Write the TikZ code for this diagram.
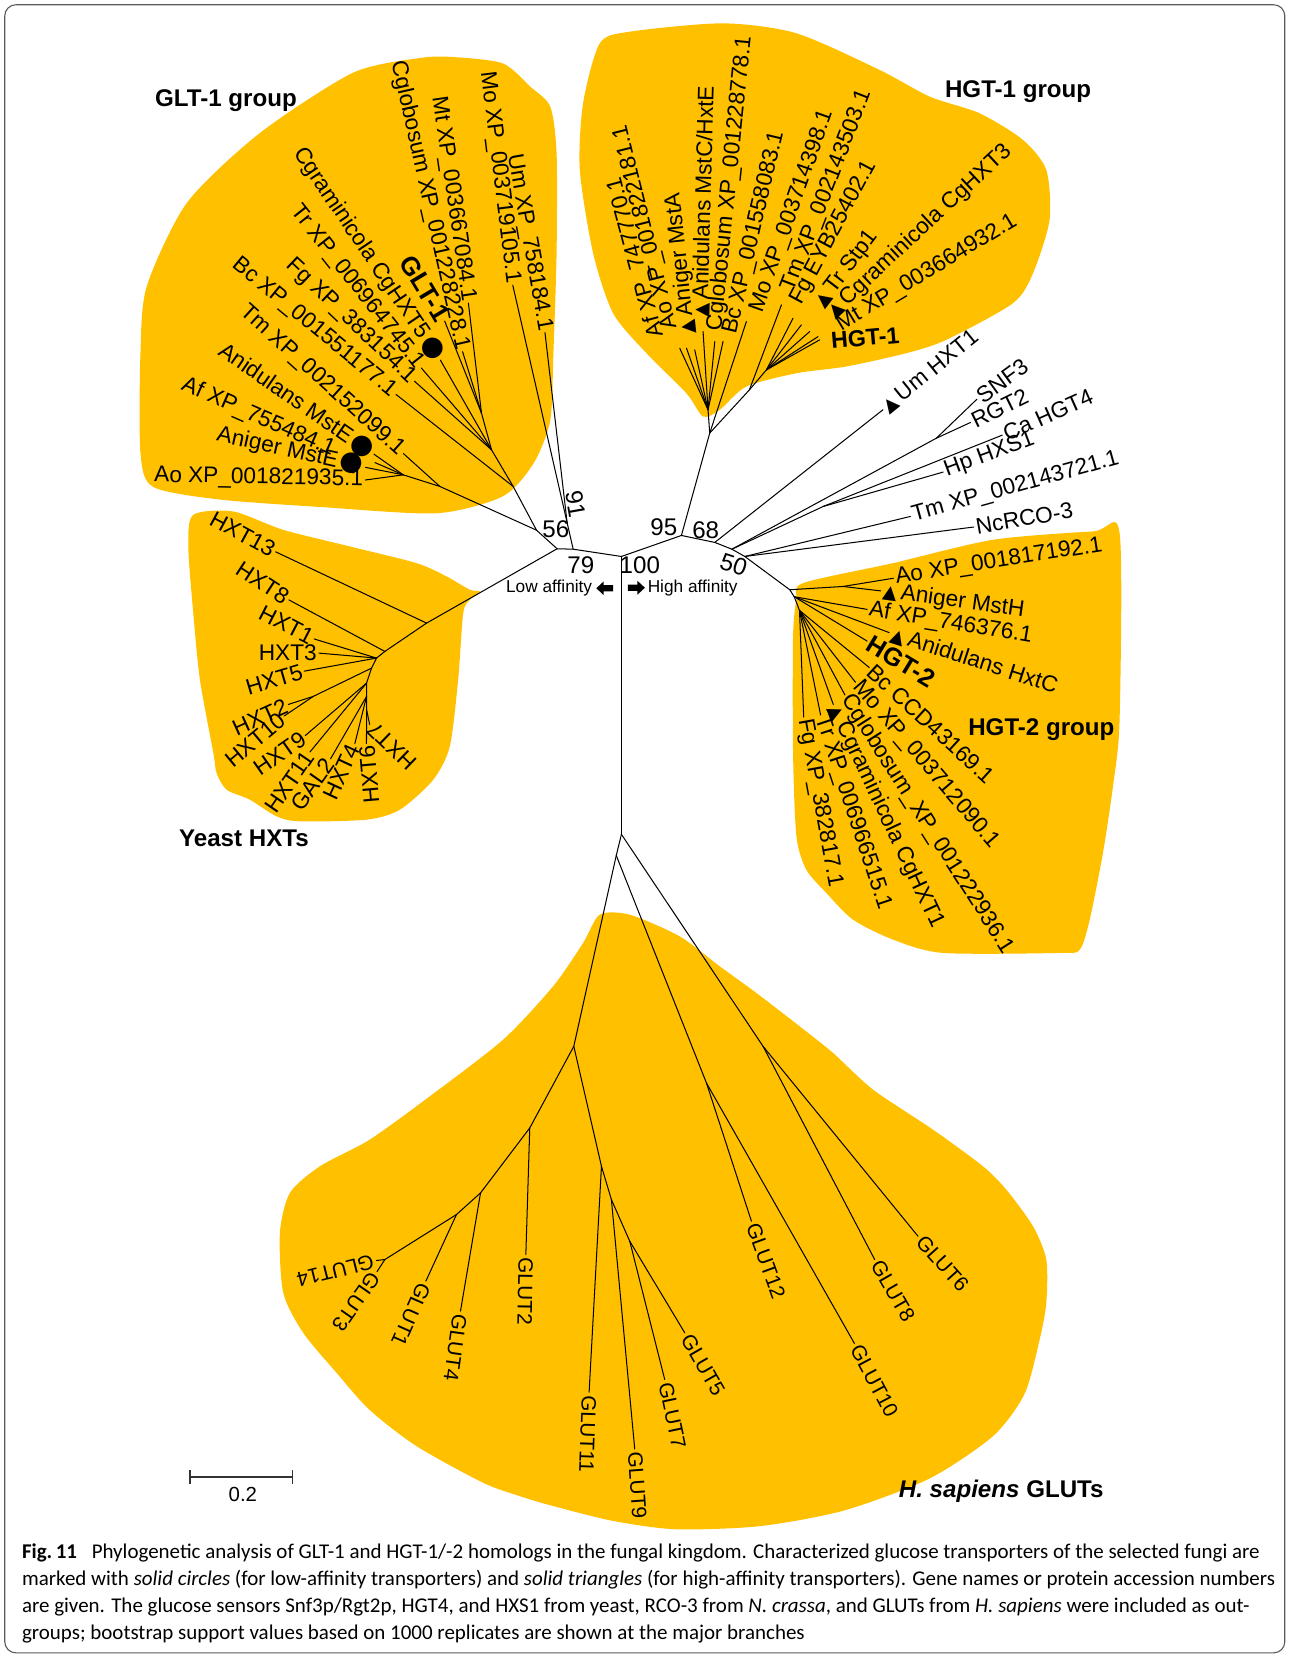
\documentclass[tikz,border=0pt]{standalone}
\usepackage{fontspec}
\setmainfont{Liberation Sans}
\newfontfamily\capfont{Carlito}
\newfontfamily\symfont{DejaVu Sans}
\usepackage{tikz}
\definecolor{Amber}{HTML}{FFC000}
\definecolor{Frame}{HTML}{5A5A5A}
\newcommand{\hitri}{{\symfont\fontsize{10}{10}\selectfont ▲}\,}
\newcommand{\lowcirc}{\hspace{1.5pt}{\symfont\fontsize{14.5}{12}\selectfont ●}}

\begin{document}
\begin{tikzpicture}[x=0.02cm, y=-0.02cm,
    tree/.style={line width=0.55pt, line cap=round},
    blob/.style={fill=Amber},
    lbl/.style={font=\fontsize{12.2}{12.2}\selectfont, inner sep=1pt},
    outl/.style={lbl, anchor=west},
    inl/.style={lbl, anchor=east},
    glut/.style={font=\fontsize{11.2}{11.2}\selectfont, inner sep=1.5pt, anchor=west},
    boot/.style={font=\fontsize{13}{13}\selectfont, inner sep=0pt},
    grp/.style={font=\bfseries\fontsize{13}{13}\selectfont, inner sep=0pt},
    aff/.style={font=\fontsize{9.3}{9.3}\selectfont, inner sep=0pt},
]
    \useasboundingbox (0,0) rectangle (1221,1568);
    \draw[Frame, line width=0.6pt, rounded corners=6pt] (4.5,4.5) rectangle (1216.5,1565);

    % shaded groups
    \fill[blob] plot[smooth cycle, tension=0.45] coordinates {(246,126) (334,69) (397,55) (429,54) (476,60) (502,82) (521,101) (527,145) (527,240) (524,334) (521,398) (505,439) (476,470) (413,486) (303,480) (208,473) (145,461) (133,429) (133,334) (139,271) (177,192)};
    \fill[blob] plot[smooth cycle, tension=0.45] coordinates {(567.9,41) (596.3,30) (684.6,22.1) (754.1,31.5) (833,66.3) (880.3,91.5) (927.6,107.3) (968.6,132.5) (990.7,160.9) (993.8,208.2) (978.1,258.7) (959.1,287.1) (896,321.8) (858.2,334.4) (801.4,347) (754.1,353.4) (706.7,366) (681.5,388) (665.7,394.4) (649.9,372.3) (612.1,334.4) (580.5,296.6) (561.6,239.8) (549,160.9) (552.1,97.8)};
    \fill[blob] plot[smooth cycle, tension=0.45] coordinates {(183,487.5) (220.9,484.3) (268.2,501.7) (331.3,517.4) (394.4,533.2) (422.8,545.8) (444.9,558.4) (454.3,560) (444.9,567.9) (438.6,580.5) (433.8,643.6) (425.9,706.7) (410.2,738.3) (378.6,766.7) (347.1,776.1) (284,777.7) (261.9,773) (236.6,757.2) (214.5,747.7) (205.1,732) (202,713) (189.3,643.6) (183,580.5) (178.3,517.4)};
    \fill[blob] plot[smooth cycle, tension=0.45] coordinates {(760.4,552.1) (845.6,533.2) (940.2,511.1) (1034.9,503.2) (1060.1,504.8) (1060.1,681.5) (1053.8,744.6) (1044.3,807.7) (1031.8,870.8) (1022.3,899.2) (1003.3,902.3) (892.9,902.3) (845.6,889.7) (807.7,870.8) (782.5,845.6) (763.5,823.5) (754.1,791.9) (750.9,713) (750.9,602.6) (754.1,567.9)};
    \fill[blob] plot[smooth cycle, tension=0.45] coordinates {(567.9,866.1) (596.3,866.1) (643.6,886.6) (681.5,915) (716.2,940.2) (757.2,971.8) (788.8,997) (826.6,1031.7) (883.4,1069.6) (930.7,1104.3) (952.8,1126.4) (978.1,1161.1) (990.7,1192.6) (990.7,1233.6) (984.4,1268.3) (970,1320) (940,1360) (880,1400) (800,1430) (720,1445) (640,1448) (580,1440) (520,1425) (492.2,1416.6) (457.5,1404) (394.4,1369.3) (350,1335) (318.7,1299.9) (287.1,1262) (268.2,1224.1) (265,1167.4) (274.5,1129.5) (302.9,1104.3) (350.2,1079) (407,1038) (476.4,984.4) (523.7,933.9) (552.1,892.9)};

    % backbone
    \coordinate (n56) at (527.5,519.6);
    \coordinate (n79) at (542.7,520);
    \coordinate (n100) at (588.4,526.9);
    \coordinate (n95) at (645.2,507);
    \coordinate (n68) at (676.8,513.6);
    \coordinate (nA) at (693,520);
    \coordinate (n50) at (705.2,526.9);
    \coordinate (nB) at (588.4,790);
    \draw[tree] (n56) -- (n79) -- (n100) -- (n95) -- (n68) -- (nA) -- (n50);
    \draw[tree] (n100) -- (nB);

    \node[boot] (b56) at (526.3,501) {56};
    \node[boot, rotate=-80] (b91) at (545.2,477) {91};
    \node[boot] (b79) at (549.9,535.4) {79};
    \node[boot] (b100) at (605.8,535.4) {100};
    \node[boot] (b95) at (628.5,499.1) {95};
    \node[boot] (b68) at (668.2,501.6) {68};
    \node[boot, rotate=-18] (b50) at (694.8,534.8) {50};

    \node[aff, anchor=east] (lowaff) at (561,557) {Low affinity};
    \node[aff, anchor=west] (highaff) at (613,556.5) {High affinity};
    \fill[shift={(572.6,557)}] (-8,0) -- (-1,-6.5) -- (-1,-3) -- (8,-3) -- (8,3) -- (-1,3) -- (-1,6.5) -- cycle;
    \fill[shift={(602.6,556.5)}] (8,0) -- (1,-6.5) -- (1,-3) -- (-8,-3) -- (-8,3) -- (1,3) -- (1,6.5) -- cycle;

    % GLT-1 group
    \coordinate (gS) at (508,502);
    \coordinate (gT) at (416.5,460.6);
    \coordinate (gAsp) at (381.8,449.6);
    \coordinate (gB) at (485.9,460.6);
    \coordinate (gC) at (465.4,425.9);
    \coordinate (gD) at (455.9,391.2);
    \coordinate (gUM) at (537,495);
    \draw[tree] (n56) -- (gS) -- (gT) -- (gAsp);
    \draw[tree] (gS) -- (gB) -- (gC) -- (gD);
    \draw[tree] (n79) -- (gUM);

    \node[inl, rotate=-1] (aoA) at (346,454.5) {Ao XP\_001821935.1};
    \draw[tree] (gAsp) -- (aoA.east);
    \node[inl, rotate=-12.4] (anE) at (346,442.5) {Aniger MstE\lowcirc};
    \draw[tree] (gAsp) -- (anE.east);
    \coordinate (tafA) at (355,438);
    \node[inl, rotate=-23.7] (afA) at (318,427.5) {Af XP\_755484.1};
    \draw[tree] (gAsp) -- (tafA);
    \node[inl, rotate=-34.6] (anidE) at (354,430) {Anidulans MstE\lowcirc};
    \draw[tree] (gAsp) -- (anidE.east);
    \node[inl, rotate=-42] (tmA) at (382,429.5) {Tm XP\_002152099.1};
    \draw[tree] (gT) -- (tmA.east);
    \node[inl, rotate=-39.4] (bcA) at (375,373.5) {Bc XP\_001551177.1};
    \draw[tree] (gB) -- (bcA.east);
    \node[inl, rotate=-43.5] (fgA) at (392.5,361) {Fg XP\_383154.1};
    \draw[tree] (gC) -- (fgA.east);
    \node[inl, rotate=-51.6] (trA) at (399,348.5) {Tr XP\_006964745.1};
    \draw[tree] (gC) -- (trA.east);
    \node[inl, rotate=-56] (cgA) at (417,341) {Cgraminicola CgHXT5\lowcirc};
    \draw[tree] (gC) -- (cgA.east);
    \node[inl, rotate=-59, font=\bfseries\fontsize{14}{14}\selectfont] (glt) at (421,304) {GLT-1};
    \draw[tree] (gD) -- (glt.east);
    \node[inl, rotate=-77.3] (cglA) at (438,333) {Cglobosum XP\_001228228.1};
    \draw[tree] (gD) -- (cglA.east);
    \node[inl, rotate=-81.6] (mtA) at (443.5,287) {Mt XP\_003667084.1};
    \draw[tree] (gD) -- (mtA.east);
    \node[inl, rotate=-83] (moA) at (485.5,270) {Mo XP\_003719105.1};
    \draw[tree] (gUM) -- (moA.east);
    \node[inl, rotate=-80] (umA) at (516,315) {Um XP\_758184.1};
    \draw[tree] (gUM) -- (umA.east);
    \node[grp] (gltgrp) at (214,95) {GLT-1 group};

    % yeast HXTs
    \coordinate (yB) at (403.9,590);
    \coordinate (yC) at (364.4,616.8);
    \coordinate (yD) at (356.5,623.1);
    \coordinate (yE) at (351.8,632.6);
    \coordinate (yE1) at (296.6,659.4);
    \coordinate (yF) at (347.1,646.8);
    \coordinate (yG) at (347.1,659.4);
    \coordinate (yH) at (347.1,672);
    \draw[tree] (n56) -- (yB) -- (yC) -- (yD) -- (yE) -- (yF) -- (yG) -- (yH);
    \draw[tree] (yE) -- (yE1);

    \node[inl, rotate=-28.4] (hxt13) at (261,522.5) {HXT13};
    \draw[tree] (yB) -- (hxt13.east);
    \node[inl, rotate=-33] (hxt8) at (273.5,568) {HXT8};
    \draw[tree] (yC) -- (hxt8.east);
    \node[inl, rotate=-27.3] (hxt1) at (297.5,605) {HXT1};
    \draw[tree] (yD) -- (hxt1.east);
    \node[inl] (hxt3) at (302,618.4) {HXT3};
    \draw[tree] (yD) -- (hxt3.east);
    \node[inl, rotate=16.4] (hxt5) at (288,635.5) {HXT5};
    \draw[tree] (yD) -- (hxt5.east);
    \node[inl, rotate=24.4] (hxt2) at (273,667) {HXT2};
    \draw[tree] (yE1) -- (hxt2.east);
    \node[inl, rotate=39.8] (hxt10) at (269,678) {HXT10};
    \draw[tree] (yE1) -- (hxt10.east);
    \node[inl, rotate=35] (hxt9) at (289,696.5) {HXT9};
    \draw[tree] (yF) -- (hxt9.east);
    \node[inl, rotate=55.6] (hxt11) at (293.5,712) {HXT11};
    \draw[tree] (yF) -- (hxt11.east);
    \node[inl, rotate=55] (gal2) at (313,718.5) {GAL2};
    \draw[tree] (yG) -- (gal2.east);
    \node[inl, rotate=65] (hxt4) at (336,704) {HXT4};
    \draw[tree] (yG) -- (hxt4.east);
    \node[inl, rotate=95] (hxt6) at (347,704) {HXT6};
    \draw[tree] (yH) -- (hxt6.east);
    \node[inl, rotate=136] (hxt7) at (350,686) {HXT7};
    \draw[tree] (yH) -- (hxt7.east);
    \node[grp] (yeastgrp) at (231,793.5) {Yeast HXTs};

    % HGT-1 group
    \coordinate (h0) at (672,410.1);
    \coordinate (hA) at (670.4,388);
    \coordinate (hB) at (709.6,369.1);
    \coordinate (hC) at (725.7,350.2);
    \draw[tree] (n95) -- (h0) -- (hA);
    \draw[tree] (h0) -- (hB) -- (hC);

    \coordinate (tAfB) at (643.6,329.7);
    \coordinate (tAoB) at (650,329.7);
    \coordinate (tAnA) at (657.8,331.3);
    \coordinate (tAnC) at (665.7,313.9);
    \coordinate (tCglB) at (676.8,323.4);
    \coordinate (tBcB) at (684.6,323.4);
    \coordinate (tMoB) at (706.7,304.5);
    \coordinate (tTmB) at (739.9,288.7);
    \coordinate (tFgB) at (750.9,301.3);
    \coordinate (tTrB) at (758.8,307.6);
    \coordinate (tCgB) at (766.7,313.9);
    \coordinate (tMtB) at (774.6,318.7);
    \coordinate (tHgt1) at (776.1,321.8);
    \draw[tree] (hA) -- (tAfB);
    \draw[tree] (hA) -- (tAoB);
    \draw[tree] (hA) -- (tAnA);
    \draw[tree] (hA) -- (tAnC);
    \draw[tree] (hA) -- (tCglB);
    \draw[tree] (hA) -- (tBcB);
    \draw[tree] (h0) -- (tMoB);
    \draw[tree] (hB) -- (tTmB);
    \draw[tree] (hC) -- (tFgB);
    \draw[tree] (hC) -- (tTrB);
    \draw[tree] (hC) -- (tCgB);
    \draw[tree] (hC) -- (tMtB);
    \draw[tree] (hC) -- (tHgt1);

    \node[outl, rotate=105] (afB) at (623,321) {Af XP\_747770.1};
    \node[outl, rotate=104] (aoB) at (636,313) {Ao XP\_001822181.1};
    \node[outl, rotate=96] (anA) at (652,318) {\hitri Aniger MstA};
    \node[outl, rotate=88.4] (anC) at (663,303) {\hitri Anidulans MstC/HxtE};
    \node[outl, rotate=84.2] (cglB) at (677,315) {Cglobosum XP\_001228778.1};
    \node[outl, rotate=76.8] (bcB) at (691,318) {Bc XP\_001558083.1};
    \node[outl, rotate=70.6] (moB) at (716,297) {Mo XP\_003714398.1};
    \node[outl, rotate=68.8] (tmB) at (746,277) {Tm XP\_002143503.1};
    \node[outl, rotate=61.9] (fgB) at (753,289) {Fg EYB25402.1};
    \node[outl, rotate=52.7] (trB) at (774,291) {\hitri Tr Stp1};
    \node[outl, rotate=43] (cgB) at (785,299) {\hitri Cgraminicola CgHXT3};
    \node[outl, rotate=31] (mtB) at (792,310) {Mt XP\_003664932.1};
    \node[outl, rotate=5, font=\bfseries\fontsize{12.5}{12.5}\selectfont] (hgt1) at (785,323) {HGT-1};
    \node[grp] (hgt1grp) at (964,87) {HGT-1 group};

    % sensors and other outgroups
    \coordinate (jSR) at (886.6,414.9);
    \coordinate (jCH) at (779.3,479.6);
    \draw[tree] (nA) -- (jSR);
    \draw[tree] (nA) -- (jCH);
    \node[outl, rotate=39] (umB) at (836,388) {\hitri Um HXT1};
    \draw[tree] (n68) -- (umB.west);
    \node[outl, rotate=36] (snf3) at (925,378) {SNF3};
    \draw[tree] (jSR) -- (snf3.west);
    \node[outl, rotate=26] (rgt2) at (919,400) {RGT2};
    \draw[tree] (jSR) -- (rgt2.west);
    \node[outl, rotate=24] (cahgt4) at (949,412) {Ca HGT4};
    \draw[tree] (jCH) -- (cahgt4.west);
    \node[outl, rotate=20.3] (hphxs1) at (893,447) {Hp HXS1};
    \draw[tree] (jCH) -- (hphxs1.west);
    \node[outl, rotate=15.6] (tmC) at (862,489) {Tm XP\_002143721.1};
    \draw[tree] (n50) -- (tmC.west);
    \node[outl, rotate=9.8] (ncrco) at (922,499) {NcRCO-3};
    \draw[tree] (n50) -- (ncrco.west);

    % HGT-2 group
    \coordinate (k1) at (747.8,558.4);
    \coordinate (kAo) at (798.2,555.3);
    \coordinate (k2) at (752,565);
    \coordinate (k3) at (757,578);
    \draw[tree] (n50) -- (k1) -- (kAo);
    \draw[tree] (k1) -- (k2) -- (k3);

    \node[outl, rotate=8.9] (aoC) at (846,547.5) {Ao XP\_001817192.1};
    \draw[tree] (kAo) -- (aoC.west);
    \node[outl, rotate=-8] (anH) at (834,559.5) {\hitri Aniger MstH};
    \draw[tree] (kAo) -- (anH.west);
    \node[outl, rotate=-9.4] (afC) at (821,577) {Af XP\_746376.1};
    \draw[tree] (k2) -- (afC.west);
    \node[outl, rotate=-17.9] (anidC) at (842,599) {\hitri Anidulans HxtC};
    \draw[tree] (k2) -- (anidC.west);
    \node[outl, rotate=-31, font=\bfseries\fontsize{13.7}{13.7}\selectfont] (hgt2) at (821,607) {HGT-2};
    \draw[tree] (k2) -- (hgt2.west);
    \node[outl, rotate=-42.5] (bcC) at (823,632) {Bc CCD43169.1};
    \draw[tree] (k3) -- (bcC.west);
    \node[outl, rotate=-49.4] (moC) at (810,646) {Mo XP\_003712090.1};
    \draw[tree] (k3) -- (moC.west);
    \node[outl, rotate=-57.5] (cglC) at (800,658) {Cglobosum\_XP\_001222936.1};
    \draw[tree] (k3) -- (cglC.west);
    \node[outl, rotate=-64.8] (cgC) at (789,667) {\hitri Cgraminicola CgHXT1};
    \draw[tree] (k3) -- (cgC.west);
    \node[outl, rotate=-71.6] (trC) at (777,677) {Tr XP\_006966515.1};
    \draw[tree] (k3) -- (trC.west);
    \node[outl, rotate=-79.6] (fgC) at (761,679) {Fg XP\_382817.1};
    \draw[tree] (k3) -- (fgC.west);
    \node[grp] (hgt2grp) at (986,691) {HGT-2 group};

    % human GLUTs
    \coordinate (gX) at (583.5,810);
    \coordinate (g1) at (543.3,990.7);
    \coordinate (g2) at (668.9,1025.4);
    \coordinate (g3) at (722.5,990.7);
    \coordinate (g4) at (501.6,1068);
    \coordinate (g5) at (455,1129.5);
    \coordinate (g6) at (432.2,1150);
    \coordinate (f14) at (364.4,1192.6);
    \coordinate (g7) at (569.5,1104.3);
    \coordinate (g8) at (578.9,1135.8);
    \coordinate (g9) at (596.3,1175.3);
    \draw[tree] (nB) -- (gX) -- (g1) -- (g4) -- (g5) -- (g6) -- (f14);
    \draw[tree] (gX) -- (g2);
    \draw[tree] (nB) -- (g3);
    \draw[tree] (g1) -- (g7) -- (g8) -- (g9);

    \node[glut, rotate=-48] (glut6) at (869.2,1170.5) {GLUT6};
    \draw[tree] (g3) -- (glut6.west);
    \node[glut, rotate=-60] (glut8) at (828.2,1192.6) {GLUT8};
    \draw[tree] (g3) -- (glut8.west);
    \node[glut, rotate=-70] (glut12) at (711.5,1156.3) {GLUT12};
    \draw[tree] (g2) -- (glut12.west);
    \node[glut, rotate=-62] (glut10) at (809,1272) {GLUT10};
    \draw[tree] (g2) -- (glut10.west);
    \node[glut, rotate=-91] (glut2) at (497.9,1187.9) {GLUT2};
    \draw[tree] (g4) -- (glut2.west);
    \node[glut, rotate=-98] (glut4) at (436,1241.5) {GLUT4};
    \draw[tree] (g5) -- (glut4.west);
    \node[glut, rotate=-114] (glut1) at (403.2,1213.1) {GLUT1};
    \draw[tree] (g6) -- (glut1.west);
    \node[glut, rotate=-125] (glut3) at (357,1204) {GLUT3};
    \draw[tree] (f14) -- (glut3.west);
    \node[glut, rotate=-166] (glut14) at (356.5,1193.5) {GLUT14};
    \draw[tree] (f14) -- (glut14.west);
    \node[glut, rotate=-92] (glut11) at (557.8,1318.2) {GLUT11};
    \draw[tree] (g7) -- (glut11.west);
    \node[glut, rotate=-86] (glut9) at (601,1372) {GLUT9};
    \draw[tree] (g8) -- (glut9.west);
    \node[glut, rotate=-78] (glut7) at (629.4,1306.2) {GLUT7};
    \draw[tree] (g9) -- (glut7.west);
    \node[glut, rotate=-60] (glut5) at (648.4,1262) {GLUT5};
    \draw[tree] (g9) -- (glut5.west);
    \node[grp] (glutgrp) at (948,1412) {\textit{H. sapiens} GLUTs};

    % scale bar
    \coordinate (sbL) at (180,1398.7);
    \coordinate (sbR) at (277,1398.7);
    \draw[line width=0.8pt, black!80] (sbL) -- (sbR);
    \draw[line width=0.8pt, black!80] (180,1392) -- (180,1405.5);
    \draw[line width=0.8pt, black!80] (277,1392) -- (277,1405.5);
    \node[font=\fontsize{11}{11}\selectfont, inner sep=0pt] (sblbl) at (230,1415) {0.2};

    % caption
    \node[anchor=north west, inner sep=0pt, align=left, font=\capfont\fontsize{11.3}{14.6}\selectfont] (caption) at (20.5,1461) {\textbf{Fig.\,11}\hspace{0.7em}Phylogenetic analysis of GLT-1 and HGT-1/-2 homologs in the fungal kingdom. Characterized glucose transporters of the selected fungi are\\
    marked with \textit{solid circles} (for low-affinity transporters) and \textit{solid triangles} (for high-affinity transporters). Gene names or protein accession numbers\\
    are given. The glucose sensors Snf3p/Rgt2p, HGT4, and HXS1 from yeast, RCO-3 from \textit{N. crassa}, and GLUTs from \textit{H. sapiens} were included as out-\\
    groups; bootstrap support values based on 1000 replicates are shown at the major branches};
\end{tikzpicture}
\end{document}
